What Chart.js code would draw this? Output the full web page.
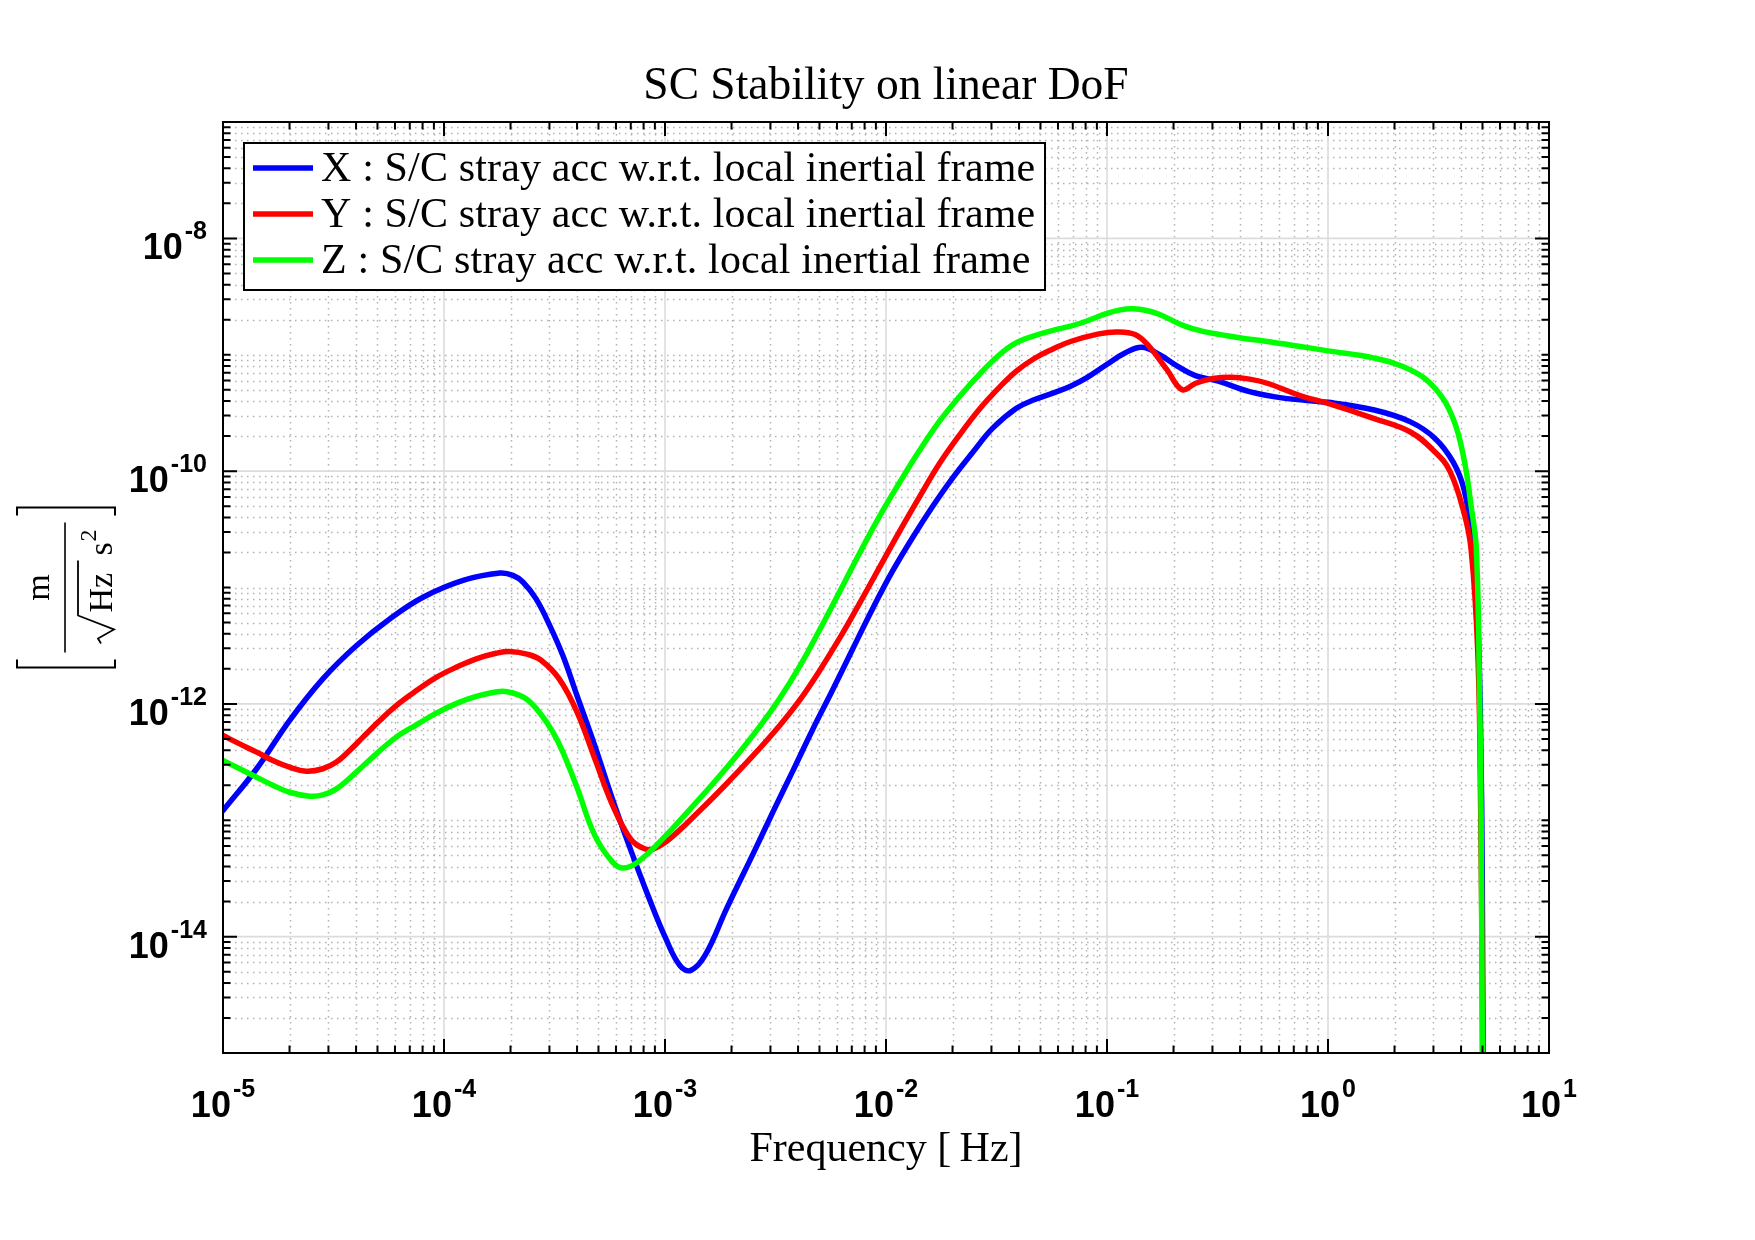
<!DOCTYPE html>
<html>
<head>
<meta charset="utf-8">
<title>SC Stability on linear DoF</title>
<script src="https://cdn.jsdelivr.net/npm/chart.js"></script>
<style>
  html, body { margin: 0; padding: 0; background: #fff; }
</style>
</head>
<body>
<canvas id="psd" width="1755" height="1240"></canvas>
<script>
// values (Hz, m/(sqrt(Hz) s^2))
const freqX = [1.00e-5, 1.42e-5, 2.00e-5, 2.83e-5, 4.01e-5, 5.68e-5, 8.04e-5, 1.22e-4, 1.79e-4, 2.05e-4,
  2.28e-4, 2.61e-4, 3.01e-4, 3.45e-4, 4.00e-4, 4.81e-4, 5.79e-4, 6.98e-4, 8.39e-4, 1.01e-3,
  1.17e-3, 1.31e-3, 1.52e-3, 1.90e-3, 2.56e-3, 3.13e-3, 3.78e-3, 4.66e-3, 5.74e-3, 7.06e-3,
  8.71e-3, 1.07e-2, 1.32e-2, 1.63e-2, 2.00e-2, 2.47e-2, 3.04e-2, 3.89e-2, 4.71e-2, 5.69e-2,
  6.84e-2, 8.22e-2, 9.93e-2, 0.120, 0.144, 0.173, 0.209, 0.251, 0.316, 0.441,
  0.640, 1, 1.62, 2.36, 3.05, 3.68, 4.12, 4.44, 4.74, 4.90, 4.99, 5.05];
const asdX = [1.21e-13, 2.77e-13, 7.19e-13, 1.64e-12, 3.16e-12, 5.37e-12, 8.24e-12, 1.15e-11, 1.33e-11, 1.27e-11,
  1.11e-11, 7.98e-12, 4.71e-12, 2.60e-12, 1.175e-12, 4.37e-13, 1.51e-13, 5.62e-14, 2.24e-14, 9.55e-15,
  5.62e-15, 5.13e-15, 6.92e-15, 1.74e-14, 5.62e-14, 1.26e-13, 2.63e-13, 6.03e-13, 1.32e-12, 2.95e-12,
  6.61e-12, 1.38e-11, 2.69e-11, 5.01e-11, 8.71e-11, 1.45e-10, 2.34e-10, 3.47e-10, 4.12e-10, 4.68e-10,
  5.37e-10, 6.46e-10, 8.20e-10, 1.03e-9, 1.16e-9, 1.00e-9, 7.94e-10, 6.61e-10, 5.96e-10, 4.82e-10,
  4.22e-10, 3.90e-10, 3.35e-10, 2.65e-10, 1.91e-10, 1.20e-10, 7.03e-11, 2.97e-11, 6.31e-12, 6.31e-13, 3.16e-14, 1e-16];

const freqY = [1.00e-5, 1.19e-5, 1.42e-5, 1.68e-5, 2.00e-5, 2.38e-5, 2.83e-5, 3.26e-5, 3.74e-5, 4.30e-5,
  5.12e-5, 6.08e-5, 7.50e-5, 9.23e-5, 1.14e-4, 1.40e-4, 1.72e-4, 1.98e-4, 2.40e-4, 2.75e-4,
  3.32e-4, 4.00e-4, 4.81e-4, 5.79e-4, 6.98e-4, 8.09e-4, 8.87e-4, 1.05e-3, 1.45e-3, 1.89e-3,
  2.49e-3, 3.29e-3, 4.06e-3, 4.99e-3, 6.15e-3, 7.57e-3, 9.33e-3, 1.15e-2, 1.42e-2, 1.74e-2,
  2.15e-2, 2.64e-2, 3.26e-2, 3.89e-2, 4.71e-2, 5.69e-2, 6.84e-2, 9.18e-2, 0.111, 0.134,
  0.155, 0.187, 0.219, 0.252, 0.302, 0.366, 0.442, 0.531, 0.771, 1,
  1.62, 2.36, 3.05, 3.56, 4.12, 4.44, 4.76, 4.90, 4.99, 5.04];
const asdY = [5.35e-13, 4.53e-13, 3.85e-13, 3.26e-13, 2.86e-13, 2.64e-13, 2.77e-13, 3.16e-13, 3.98e-13, 5.18e-13,
  7.19e-13, 9.68e-13, 1.30e-12, 1.69e-12, 2.07e-12, 2.44e-12, 2.72e-12, 2.82e-12, 2.66e-12, 2.37e-12,
  1.64e-12, 8.51e-13, 3.39e-13, 1.35e-13, 6.92e-14, 5.68e-14, 5.68e-14, 6.92e-14, 1.23e-13, 2.04e-13,
  3.55e-13, 6.46e-13, 1.07e-12, 1.91e-12, 3.63e-12, 7.24e-12, 1.48e-11, 3.02e-11, 6.03e-11, 1.15e-10,
  2.04e-10, 3.39e-10, 5.25e-10, 7.24e-10, 9.33e-10, 1.12e-9, 1.30e-9, 1.51e-9, 1.57e-9, 1.49e-9,
  1.18e-9, 7.41e-10, 5.01e-10, 5.69e-10, 6.24e-10, 6.41e-10, 6.17e-10, 5.69e-10, 4.37e-10, 3.82e-10,
  2.83e-10, 2.17e-10, 1.46e-10, 1.00e-10, 4.43e-11, 2.14e-11, 2.82e-12, 1.58e-13, 3.16e-15, 1e-16];

const freqZ = [1.00e-5, 1.19e-5, 1.42e-5, 1.68e-5, 2.00e-5, 2.47e-5, 2.83e-5, 3.26e-5, 4.01e-5, 4.94e-5,
  6.08e-5, 7.50e-5, 9.23e-5, 1.14e-4, 1.40e-4, 1.79e-4, 2.05e-4, 2.36e-4, 2.70e-4, 3.11e-4,
  3.45e-4, 4.00e-4, 4.81e-4, 5.79e-4, 6.47e-4, 7.52e-4, 1.01e-3, 1.29e-3, 1.59e-3, 2.02e-3,
  2.67e-3, 3.29e-3, 4.06e-3, 4.99e-3, 6.15e-3, 7.57e-3, 9.33e-3, 1.15e-2, 1.42e-2, 1.74e-2,
  2.15e-2, 2.64e-2, 3.26e-2, 3.89e-2, 4.71e-2, 5.69e-2, 6.84e-2, 8.22e-2, 9.93e-2, 0.115,
  0.131, 0.151, 0.173, 0.225, 0.275, 0.327, 0.417, 0.531, 0.724, 1,
  1.62, 2.36, 3.05, 3.68, 4.12, 4.44, 4.69, 4.85, 4.93, 5.02];
const asdZ = [3.26e-13, 2.77e-13, 2.34e-13, 2.00e-13, 1.74e-13, 1.61e-13, 1.65e-13, 1.86e-13, 2.59e-13, 3.72e-13,
  5.18e-13, 6.61e-13, 8.32e-13, 1.01e-12, 1.16e-12, 1.28e-12, 1.24e-12, 1.10e-12, 8.47e-13, 5.71e-13,
  3.85e-13, 1.91e-13, 7.41e-14, 4.37e-14, 3.89e-14, 4.37e-14, 7.41e-14, 1.23e-13, 1.91e-13, 3.24e-13,
  6.31e-13, 1.10e-12, 2.09e-12, 4.27e-12, 9.12e-12, 1.95e-11, 4.07e-11, 7.94e-11, 1.51e-10, 2.66e-10,
  4.37e-10, 6.76e-10, 1.00e-9, 1.27e-9, 1.46e-9, 1.62e-9, 1.76e-9, 1.97e-9, 2.26e-9, 2.43e-9,
  2.48e-9, 2.40e-9, 2.22e-9, 1.76e-9, 1.58e-9, 1.49e-9, 1.38e-9, 1.30e-9, 1.19e-9, 1.08e-9,
  9.35e-10, 7.41e-10, 5.15e-10, 2.83e-10, 1.28e-10, 5.05e-11, 2.14e-11, 1.23e-12, 1e-13, 1e-16];

const seriesLabels = [
  'X : S/C stray acc w.r.t. local inertial frame',
  'Y : S/C stray acc w.r.t. local inertial frame',
  'Z : S/C stray acc w.r.t. local inertial frame'
];
const xTickExps = [-5, -4, -3, -2, -1, 0, 1];
const yTickExps = [-14, -12, -10, -8];

const SERIF = '"Liberation Serif", "Times New Roman", serif';
const SANS = '"Liberation Sans", Arial, sans-serif';

function pairs(fs, vs) {
  return fs.map((f, i) => ({ x: f, y: vs[i] }));
}

// all 1..9 x 10^e positions of a log axis, flagged major when labelled
function logTicks(scale, majorExps) {
  const out = [];
  const e0 = Math.floor(Math.log10(scale.min));
  const e1 = Math.ceil(Math.log10(scale.max));
  for (let e = e0; e <= e1; e++) {
    for (let m = 1; m <= 9; m++) {
      const v = m * Math.pow(10, e);
      if (v <= scale.min * 1.0001 || v >= scale.max * 0.9999) continue;
      out.push({ v: v, major: m === 1 && majorExps.includes(e) });
    }
  }
  return out;
}

const matlabAxes = {
  id: 'matlabAxes',
  beforeDatasetsDraw(chart) {
    const { ctx, chartArea: a, scales: { x, y } } = chart;
    const xt = logTicks(x, xTickExps);
    const yt = logTicks(y, yTickExps);
    ctx.save();
    ctx.beginPath();
    ctx.rect(a.left, a.top, a.right - a.left, a.bottom - a.top);
    ctx.clip();

    // minor grid, dotted
    ctx.strokeStyle = '#b2b2b2';
    ctx.lineWidth = 1.5;
    ctx.setLineDash([1.5, 4.5]);
    ctx.beginPath();
    xt.filter(t => !t.major).forEach(t => {
      const p = Math.round(x.getPixelForValue(t.v)) + 0.5;
      ctx.moveTo(p, a.top); ctx.lineTo(p, a.bottom);
    });
    yt.filter(t => !t.major).forEach(t => {
      const p = Math.round(y.getPixelForValue(t.v)) + 0.5;
      ctx.moveTo(a.left, p); ctx.lineTo(a.right, p);
    });
    ctx.stroke();

    // major grid, solid
    ctx.setLineDash([]);
    ctx.strokeStyle = '#dcdcdc';
    ctx.lineWidth = 1.6;
    ctx.beginPath();
    xt.filter(t => t.major).forEach(t => {
      const p = x.getPixelForValue(t.v);
      ctx.moveTo(p, a.top); ctx.lineTo(p, a.bottom);
    });
    yt.filter(t => t.major).forEach(t => {
      const p = y.getPixelForValue(t.v);
      ctx.moveTo(a.left, p); ctx.lineTo(a.right, p);
    });
    ctx.stroke();
    ctx.restore();
  },
  afterDatasetsDraw(chart) {
    const { ctx, chartArea: a, scales: { x, y } } = chart;
    ctx.save();
    ctx.strokeStyle = '#000';
    ctx.lineWidth = 2;
    ctx.strokeRect(a.left, a.top, a.right - a.left, a.bottom - a.top);

    // ticks point inwards on all four sides
    ctx.beginPath();
    logTicks(x, xTickExps).forEach(t => {
      const p = x.getPixelForValue(t.v);
      const len = t.major ? 14 : 7.5;
      ctx.moveTo(p, a.bottom); ctx.lineTo(p, a.bottom - len);
      ctx.moveTo(p, a.top); ctx.lineTo(p, a.top + len);
    });
    logTicks(y, yTickExps).forEach(t => {
      const p = y.getPixelForValue(t.v);
      const len = t.major ? 14 : 7.5;
      ctx.moveTo(a.left, p); ctx.lineTo(a.left + len, p);
      ctx.moveTo(a.right, p); ctx.lineTo(a.right - len, p);
    });
    ctx.stroke();

    // legend box in the upper left corner of the axes
    const lx = a.left + 21, ly = a.top + 21, lw = 801, lh = 147;
    ctx.fillStyle = '#fff';
    ctx.fillRect(lx, ly, lw, lh);
    ctx.strokeRect(lx, ly, lw, lh);
    ctx.font = '42px ' + SERIF;
    ctx.letterSpacing = '0.15px';
    ctx.textAlign = 'left';
    ctx.textBaseline = 'alphabetic';
    chart.data.datasets.forEach((ds, i) => {
      const cy = ly + 25 + i * 46;
      ctx.strokeStyle = ds.borderColor;
      ctx.lineWidth = 5.5;
      ctx.beginPath();
      ctx.moveTo(lx + 9, cy); ctx.lineTo(lx + 69, cy);
      ctx.stroke();
      ctx.fillStyle = '#000';
      ctx.fillText(ds.label, lx + 77, cy + 13);
    });
    ctx.restore();
  }
};

function drawPower(ctx, exp, x, baseY, align) {
  const base = '10', sup = String(exp);
  ctx.font = 'bold 36px ' + SANS;
  const wb = ctx.measureText(base).width;
  ctx.font = 'bold 25px ' + SANS;
  const ws = ctx.measureText(sup).width;
  const total = wb + 2 + ws;
  const left = align === 'center' ? x - total / 2 : x - total;
  ctx.font = 'bold 36px ' + SANS;
  ctx.fillText(base, left, baseY);
  ctx.font = 'bold 25px ' + SANS;
  ctx.fillText(sup, left + wb + 2, baseY - 20);
}

// [ m / (sqrt(Hz) s^2) ] written bottom to top
function drawUnit(ctx, cx, cy) {
  ctx.save();
  ctx.translate(cx, cy);
  ctx.rotate(-Math.PI / 2);
  ctx.fillStyle = '#000';
  ctx.strokeStyle = '#000';
  ctx.lineWidth = 2;
  ctx.beginPath();
  ctx.moveTo(-72, -50); ctx.lineTo(-80, -50); ctx.lineTo(-80, 48); ctx.lineTo(-72, 48);
  ctx.moveTo(72, -50); ctx.lineTo(80, -50); ctx.lineTo(80, 48); ctx.lineTo(72, 48);
  ctx.stroke();
  ctx.lineWidth = 1.6;
  ctx.beginPath();
  ctx.moveTo(-65, -2); ctx.lineTo(65, -2);
  ctx.stroke();
  ctx.textAlign = 'center';
  ctx.textBaseline = 'alphabetic';
  ctx.font = '34px ' + SERIF;
  ctx.fillText('m', 0, -18);
  // radical over Hz
  ctx.lineWidth = 1.8;
  ctx.beginPath();
  ctx.moveTo(-56, 34); ctx.lineTo(-51, 31); ctx.lineTo(-42, 47); ctx.lineTo(-28, 11); ctx.lineTo(27, 11);
  ctx.stroke();
  ctx.textAlign = 'left';
  ctx.fillText('Hz', -25, 45);
  ctx.fillText('s', 32, 45);
  ctx.font = '24px ' + SERIF;
  ctx.fillText('2', 46, 29);
  ctx.restore();
}

const powerLabels = {
  id: 'powerLabels',
  afterDraw(chart) {
    const { ctx, chartArea: a, scales: { x, y } } = chart;
    ctx.save();
    ctx.fillStyle = '#000';
    ctx.textAlign = 'left';
    ctx.textBaseline = 'alphabetic';
    xTickExps.forEach(e => drawPower(ctx, e, x.getPixelForValue(Math.pow(10, e)), a.bottom + 64, 'center'));
    yTickExps.forEach(e => drawPower(ctx, e, a.left - 16, y.getPixelForValue(Math.pow(10, e)) + 21, 'right'));
    drawUnit(ctx, a.left - 156, (a.top + a.bottom) / 2);
    ctx.restore();
  }
};

new Chart(document.getElementById('psd'), {
  type: 'line',
  data: {
    datasets: [
      { label: seriesLabels[0], data: pairs(freqX, asdX), borderColor: '#0000ff', order: 3 },
      { label: seriesLabels[1], data: pairs(freqY, asdY), borderColor: '#ff0000', order: 2 },
      { label: seriesLabels[2], data: pairs(freqZ, asdZ), borderColor: '#00ff00', order: 1 }
    ]
  },
  options: {
    responsive: false,
    animation: false,
    layout: { padding: { left: 0, right: 206, top: 0, bottom: 0 } },
    datasets: { line: { clip: 0 } },
    elements: {
      point: { radius: 0 },
      line: { borderWidth: 5.5, tension: 0.4, borderCapStyle: 'round', borderJoinStyle: 'round', fill: false }
    },
    scales: {
      x: {
        type: 'logarithmic', min: 1e-5, max: 10,
        grid: { display: false }, border: { display: false }, ticks: { display: false },
        title: {
          display: true, text: 'Frequency [\u2009Hz]', color: '#000',
          font: { family: SERIF, size: 42, weight: 'normal', lineHeight: 1.2 },
          padding: { top: 0, bottom: 65 }
        },
        afterFit(scale) { scale.height = 187; }
      },
      y: {
        type: 'logarithmic', min: 1e-15, max: 1e-7,
        grid: { display: false }, border: { display: false }, ticks: { display: false },
        afterFit(scale) { scale.width = 223; }
      }
    },
    plugins: {
      legend: { display: false },
      tooltip: { enabled: false },
      title: {
        display: true, text: 'SC Stability on linear DoF', color: '#000', fullSize: false,
        font: { family: SERIF, size: 45.5, weight: 'normal', lineHeight: '48px' },
        padding: { top: 63, bottom: 11 }
      }
    }
  },
  plugins: [matlabAxes, powerLabels]
});
</script>
</body>
</html>
